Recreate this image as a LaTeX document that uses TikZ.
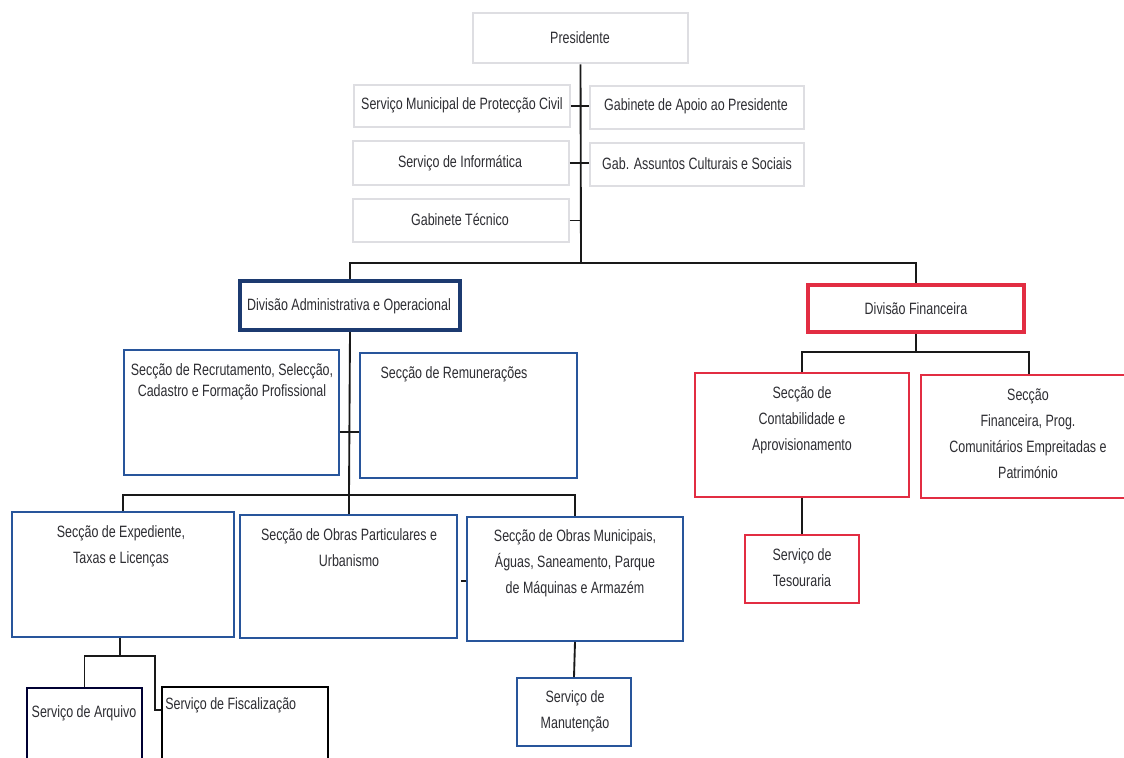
\documentclass[tikz,border=0pt]{standalone}
\usepackage{fontspec}
\setmainfont{Liberation Sans}[FakeStretch=0.76]
\usetikzlibrary{calc}
\definecolor{navy}{RGB}{28,58,112}
\definecolor{bl}{RGB}{40,85,155}
\definecolor{rd}{RGB}{226,45,66}
\definecolor{lg}{RGB}{222,222,226}
\definecolor{txt}{RGB}{45,45,50}
\tikzset{
  box/.style={rectangle, draw, fill=white, inner sep=0pt},
  greybox/.style={box, draw=lg, line width=1.2pt},
  presbox/.style={box, draw=lg, line width=2.2pt},
  bluebox/.style={box, draw=bl, line width=1.2pt},
  redbox/.style={box, draw=rd, line width=1.2pt},
  navybox/.style={box, draw=navy, line width=3pt},
  redthick/.style={box, draw=rd, line width=3pt},
  darkbox/.style={box, draw=black!80!blue, line width=1.2pt},
  lbl/.style={text=txt, font=\fontsize{12.3}{19.5}\selectfont, align=center, inner sep=0pt},
  lbltight/.style={lbl, font=\fontsize{12.3}{16}\selectfont},
  conn/.style={draw=black!90, line width=1.4pt},
}
\newcommand\pbox[6]{\node[#6, minimum width={(#4-#2)*0.75pt}, minimum height={(#5-#3)*0.75pt}] (#1) at ({(#2+#4)/2},{(#3+#5)/2}) {};}
\begin{document}
\begin{tikzpicture}[x=0.75pt,y=-0.75pt]
\useasboundingbox (0,0) rectangle (1124,757);
\clip (0,0) rectangle (1124,757);
\fill[white] (0,0) rectangle (1124,757);
% junction coordinates
\coordinate (j1) at (581,263);
\coordinate (j2) at (349,495);
\coordinate (j3) at (349,432);
\coordinate (j4) at (120,656);
\coordinate (j5) at (155,710);
\coordinate (j6) at (916,352);
% boxes
\pbox{pres}{473}{13}{688}{63}{presbox}
\pbox{smpc}{354}{85}{570}{127}{greybox}
\pbox{gap}{590}{86}{804}{129}{greybox}
\pbox{inf}{353}{141}{569}{185}{greybox}
\pbox{gac}{590}{143}{804}{186}{greybox}
\pbox{tec}{353}{199}{569}{242}{greybox}
\pbox{divA}{240}{281}{460}{330}{navybox}
\pbox{divF}{808}{285}{1024}{332}{redthick}
\pbox{rec}{124}{350}{339}{475}{bluebox}
\pbox{rem}{360}{353}{577}{478}{bluebox}
\pbox{exp}{12}{512}{234}{637}{bluebox}
\pbox{opa}{240}{515}{457}{638}{bluebox}
\pbox{omu}{467}{517}{683}{641}{bluebox}
\pbox{arq}{27}{688}{142}{790}{darkbox}
\pbox{fis}{162}{687}{328}{790}{box, draw=black, line width=1.2pt}
\pbox{man}{517}{678}{631}{746}{bluebox}
\pbox{cont}{695}{373}{909}{497}{redbox}
\pbox{sfin}{921}{375}{1137}{498}{redbox}
\pbox{tes}{745}{535}{859}{603}{redbox}
% connectors
\draw[conn] (pres.south) -- (j1);
\draw[conn] (smpc.east) -- (smpc.east -| gap.west);
\draw[conn] (inf.east) -- (inf.east -| gac.west);
\draw[conn] (tec.east) -- (tec.east -| j1);
\draw[conn] (divA.north) |- (j1) -| (divF.north);
\draw[conn] (divA.south) -- (j2);
\draw[conn] (rec.east |- j3) -- (rem.west |- j3);
\draw[conn] (exp.north) |- (j2) -| (omu.north);
\draw[conn] (j2) -- (opa.north -| j2);
\draw[conn] ([yshift=-3.5pt]opa.east -| omu.west) -- ++(-5,0);
\draw[conn] (exp.south -| j4) -- (j4);
\draw[conn] (arq.north) |- (j4) -| (j5) -- (j5 -| fis.west);
\draw[conn] (omu.south) -- (man.north);
\draw[conn] (divF.south) -- (j6);
\draw[conn] (cont.north) |- (j6) -| (sfin.north);
\draw[conn] (cont.south) -- (tes.north);
% labels
\node[lbl] (t-pres) at (580,38) {Presidente};
\node[lbl] (t-smpc) at (462,105) {Serviço Municipal de Protecção Civil};
\node[lbl] (t-gap) at (696,106) {Gabinete de Apoio ao Presidente};
\node[lbl] (t-inf) at (460,163) {Serviço de Informática};
\node[lbl] (t-gac) at (697,164) {Gab. Assuntos Culturais e Sociais};
\node[lbl] (t-tec) at (460,220) {Gabinete Técnico};
\node[lbl] (t-divA) at (349,306) {Divisão Administrativa e Operacional};
\node[lbl] (t-divF) at (916,309) {Divisão Financeira};
\node[lbltight] (t-rec) at (232,382) {Secção de Recrutamento, Selecção,\\Cadastro e Formação Profissional};
\node[lbl] (t-rem) at (454,374) {Secção de Remunerações};
\node[lbl] (t-exp) at (121,546) {Secção de Expediente,\\Taxas e Licenças};
\node[lbl] (t-opa) at (349,548) {Secção de Obras Particulares e\\Urbanismo};
\node[lbl] (t-omu) at (575,563) {Secção de Obras Municipais,\\Águas, Saneamento, Parque\\de Máquinas e Armazém};
\node[lbl] (t-arq) at (84,713) {Serviço de Arquivo};
\node[lbl, anchor=west] (t-fis) at (165,705) {Serviço de Fiscalização};
\node[lbl] (t-man) at (575,711) {Serviço de\\Manutenção};
\node[lbl] (t-cont) at (802,420) {Secção de\\Contabilidade e\\Aprovisionamento};
\node[lbl] (t-sfin) at (1028,434) {Secção\\Financeira, Prog.\\Comunitários Empreitadas e\\Património};
\node[lbl] (t-tes) at (802,568) {Serviço de\\Tesouraria};
\end{tikzpicture}
\end{document}
